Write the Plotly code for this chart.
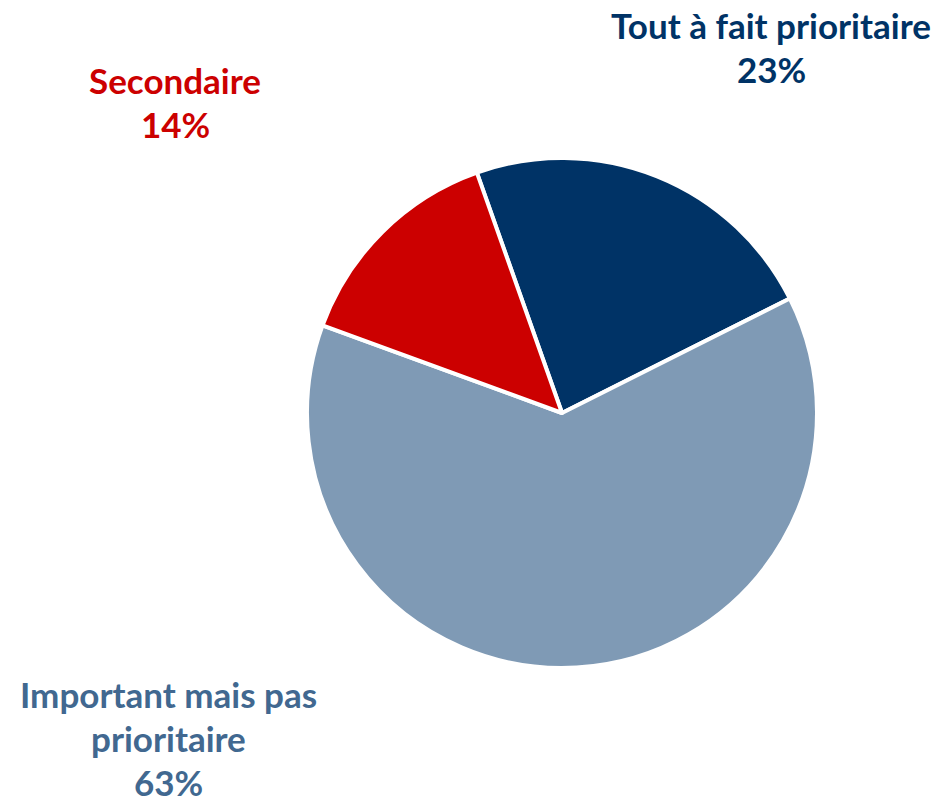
import plotly.graph_objects as go

categories = ["Tout à fait prioritaire", "Important mais pas prioritaire", "Secondaire"]
values = [23, 63, 14]
colors = ["#003366", "#7f9ab5", "#cc0000"]
label_colors = ["#003366", "#416890", "#cc0000"]
label_lines = [["Tout à fait prioritaire"], ["Important mais pas", "prioritaire"], ["Secondaire"]]
label_pos = [(771, 27), (168, 696), (175, 82)]  # px centers of first line

W, H = 935, 802
cx, cy, r = 562, 413, 255

fig = go.Figure(go.Pie(
    labels=categories, values=values, sort=False, direction="clockwise",
    rotation=-19.5, marker=dict(colors=colors, line=dict(color="white", width=4)),
    textinfo="none", hoverinfo="label+percent", showlegend=False,
    domain=dict(x=[(cx - r) / W, (cx + r) / W], y=[(H - cy - r) / H, (H - cy + r) / H]),
))

ann = []
step = 44
for cat, v, lines, col, (x, y) in zip(categories, values, label_lines, label_colors, label_pos):
    for i, t in enumerate(lines + [f"{v}%"]):
        ann.append(dict(x=x / W, y=1 - (y - 2 + i * step) / H, xref="paper", yref="paper",
                        text=f"<b>{t}</b>", showarrow=False, xanchor="center", yanchor="middle",
                        font=dict(family="Lato", size=35, color=col)))

fig.update_layout(width=W, height=H, margin=dict(l=0, r=0, t=0, b=0),
                  paper_bgcolor="white", plot_bgcolor="white", annotations=ann)
fig.write_html("out.html", config={"displayModeBar": False},
               post_script="document.body.style.margin='0';document.body.style.overflow='hidden';")
